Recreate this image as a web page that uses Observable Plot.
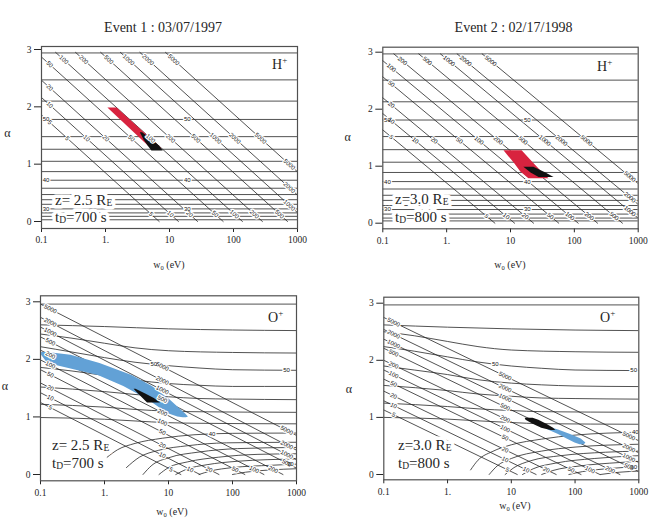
<!DOCTYPE html>
<html>
<head>
<meta charset="utf-8">
<script src="https://cdn.jsdelivr.net/npm/d3@7"></script>
<script src="https://cdn.jsdelivr.net/npm/@observablehq/plot@0.6"></script>
<style>
  body { margin: 0; background: #fff; }
  #fig { position: relative; width: 651px; height: 524px; background: #fff; }
  .panel { position: absolute; height: 262px; }
</style>
</head>
<body>
<div id="fig"></div>
<script>
// ---------- axes ----------
const xTicks = [0.1, 1, 10, 100, 1000];
const xTickLabels = ["0.1", "1.", "10", "100", "1000"];
const yTicks = [0, 1, 2, 3];
const yTickLabels = ["0", "1", "2", "3"];

// ---------- contour levels ----------
const energyLevels = [5, 10, 20, 50, 100, 200, 500, 1000, 2000, 5000];
const pitchLevels = [56, 54, 52, 50, 48, 46, 44, 42, 40, 38, 36, 34, 32, 30, 28, 26, 24];

// H+ energy contours: w0 where each meets the top line, and w0 where it meets α = 0
const ev1HTopW = [0.0083, 0.0166, 0.033, 0.083, 0.166, 0.34, 0.84, 1.71, 3.44, 8.66];
const ev1HBotW = [6.9, 13.8, 27.5, 69, 138, 283, 699, 1423, 2862, 7205];
const ev2HTopW = [0.0037, 0.0075, 0.0149, 0.037, 0.0745, 0.149, 0.366, 0.80, 1.46, 3.6];
const ev2HBotW = [5.7, 11.6, 23, 57, 115, 231, 567, 1240, 2260, 5570];

// O+ energy contours: α at w0 = 0.1, and w0 where each reaches α = 0
const ev1OLeftA = [1.25, 1.42, 1.59, 1.82, 1.99, 2.16, 2.39, 2.56, 2.73, 2.96];
const ev1OBotW = [15.6, 31, 61.5, 156, 310, 615, 1560, 2830, 5400, 15500];
const ev2OLeftA = [1.13, 1.29, 1.46, 1.67, 1.83, 2.0, 2.21, 2.37, 2.54, 2.75];
const ev2OBotW = [12.4, 24.5, 50.6, 124, 245, 506, 1240, 2450, 5060, 12400];

// H+ pitch-angle contours (flat in α)
const ev1HPitchA = [2.94, 2.47, 2.10, 1.78, 1.48, 1.26, 1.05, 0.87, 0.72, 0.58, 0.47, 0.38, 0.30, 0.22, 0.15, 0.09, 0.03];
const ev2HPitchA = [2.97, 2.51, 2.13, 1.81, 1.52, 1.29, 1.07, 0.89, 0.73, 0.60, 0.49, 0.40, 0.31, 0.24, 0.16, 0.09, 0.04];

// O+ pitch-angle contours, levels 56 … 28, as [w0, α] points
const ev1OPitch = [
  [[0.1, 2.96], [1000, 2.96]],
  [[0.1, 2.60], [1, 2.57], [10, 2.53], [100, 2.51], [1000, 2.50]],
  [[0.1, 2.44], [0.3, 2.37], [1, 2.28], [3, 2.20], [10, 2.15], [100, 2.12], [1000, 2.11]],
  [[0.1, 2.22], [0.3, 2.13], [1, 2.03], [3, 1.95], [10, 1.89], [30, 1.85], [100, 1.82], [1000, 1.81]],
  [[0.1, 1.86], [0.3, 1.80], [1, 1.72], [3, 1.64], [10, 1.58], [30, 1.55], [100, 1.53], [1000, 1.53]],
  [[0.1, 1.52], [1, 1.44], [3, 1.39], [10, 1.35], [30, 1.32], [100, 1.31], [1000, 1.30]],
  [[0.1, 1.22], [1, 1.17], [3, 1.13], [10, 1.10], [30, 1.09], [1000, 1.08]],
  [[0.1, 0.99], [1, 0.96], [3, 0.93], [10, 0.90], [30, 0.89], [1000, 0.88]],
  [[1.1, 0.30], [1.6, 0.43], [3, 0.54], [8, 0.63], [25, 0.69], [100, 0.715], [1000, 0.72]],
  [[2.2, 0.12], [3.5, 0.30], [7, 0.42], [20, 0.50], [80, 0.55], [1000, 0.56]],
  [[4.0, 0.0], [5.5, 0.16], [10, 0.29], [30, 0.39], [120, 0.45], [1000, 0.47]],
  [[7.1, 0.0], [10, 0.12], [20, 0.22], [60, 0.30], [250, 0.35], [1000, 0.36]],
  [[13, 0.0], [19, 0.09], [40, 0.17], [120, 0.23], [1000, 0.27]],
  [[30, 0.0], [45, 0.06], [100, 0.12], [400, 0.16], [1000, 0.18]],
  [[100, 0.0], [160, 0.04], [400, 0.08], [1000, 0.10]]
];
const ev2OPitch = [
  [[0.1, 2.97], [1000, 2.97]],
  [[0.1, 2.62], [1, 2.58], [10, 2.55], [100, 2.53], [1000, 2.52]],
  [[0.1, 2.50], [0.3, 2.43], [1, 2.33], [3, 2.24], [10, 2.18], [100, 2.15], [1000, 2.14]],
  [[0.1, 2.24], [0.3, 2.16], [1, 2.06], [3, 1.97], [10, 1.90], [30, 1.86], [100, 1.83], [1000, 1.82]],
  [[0.1, 1.90], [0.3, 1.83], [1, 1.75], [3, 1.66], [10, 1.60], [30, 1.57], [100, 1.55], [1000, 1.54]],
  [[0.1, 1.56], [1, 1.47], [3, 1.41], [10, 1.37], [30, 1.34], [100, 1.33], [1000, 1.32]],
  [[0.1, 1.25], [1, 1.19], [3, 1.15], [10, 1.12], [30, 1.10], [1000, 1.09]],
  [[0.1, 1.00], [1, 0.97], [3, 0.94], [10, 0.91], [30, 0.89], [1000, 0.88]],
  [[2.3, 0.08], [3, 0.25], [5, 0.40], [10, 0.52], [30, 0.62], [100, 0.69], [1000, 0.74]],
  [[4.5, 0.0], [6, 0.15], [10, 0.28], [30, 0.41], [100, 0.48], [1000, 0.53]],
  [[8, 0.0], [11, 0.12], [20, 0.24], [60, 0.33], [300, 0.39], [1000, 0.41]],
  [[15, 0.0], [22, 0.10], [50, 0.20], [200, 0.28], [1000, 0.33]],
  [[30, 0.0], [45, 0.07], [120, 0.15], [500, 0.21], [1000, 0.23]],
  [[80, 0.0], [130, 0.05], [400, 0.11], [1000, 0.14]],
  [[250, 0.0], [500, 0.04], [1000, 0.06]]
];

// observed distributions: rows of [α, w0 low, w0 high]
const ev1HModel = [[1.98, 1.09, 1.52], [1.27, 5.2, 7.6]];
const ev1HData = [[1.55, 3.5, 3.8], [1.42, 4.0, 5.4], [1.32, 4.6, 6.9], [1.23, 5.3, 8.0]];
const ev2HModel = [[1.27, 7.9, 15.2], [1.05, 11.5, 23], [0.90, 14.5, 31], [0.78, 19.4, 40]];
const ev2HData = [[0.98, 16.2, 23.2], [0.88, 21, 36], [0.80, 28, 48]];
const ev1OModel = [[2.12, 0.104, 0.13], [2.07, 0.104, 0.30], [1.93, 0.13, 0.85], [1.72, 0.80, 2.7],
                   [1.53, 2.0, 5.6], [1.30, 4.8, 10.5], [1.14, 7.6, 15.0], [1.05, 10.2, 18.5],
                   [1.0, 14, 20.5], [0.985, 17, 19]];
const ev1OData = [[1.48, 2.9, 3.1], [1.40, 3.4, 4.4], [1.32, 4.0, 6.0], [1.24, 4.7, 7.5]];
const ev2OModel = [[0.83, 34, 38], [0.78, 38, 55], [0.70, 55, 85], [0.62, 75, 125], [0.55, 100, 148], [0.52, 120, 140]];
const ev2OData = [[0.985, 16.5, 22], [0.95, 17, 27], [0.88, 22, 36], [0.81, 30, 46], [0.77, 42, 50]];

// ---------- drawing ----------
const SERIF = "'Liberation Serif', 'Times New Roman', serif";
const INK = "#262626";
const RED = "#d8233f";
const BLUE = "#62a1d6";
const DARK = "#111111";

function hEnergy(topA, topW, botW) {
  return energyLevels.map((v, i) => ({v, w1: topW[i], a1: topA, w2: botW[i], a2: 0}));
}
function oEnergy(leftA, botW) {
  return energyLevels.map((v, i) => ({v, w1: 0.1, a1: leftA[i], w2: botW[i], a2: 0}));
}
function flatPitch(alphas) {
  return alphas.map(a => [[0.1, a], [1000, a]]);
}
function lerpCurve(curve, w) {
  const lw = Math.log10(w);
  for (let i = 1; i < curve.length; i++) {
    const [w0, a0] = curve[i - 1], [w1, a1] = curve[i];
    const l0 = Math.log10(w0), l1 = Math.log10(w1);
    if (lw <= l1 || i === curve.length - 1) {
      const t = Math.max(0, Math.min(1, (lw - l0) / (l1 - l0)));
      return a0 + t * (a1 - a0);
    }
  }
}

const panels = [
  {
    left: 0, top: 0, width: 325, frame: [41, 297, 46, 228], xr: [41, 297], yr: [221, 49],
    energy: hEnergy(2.95, ev1HTopW, ev1HBotW), pitch: flatPitch(ev1HPitchA), midAlpha: 1.45,
    pitchLabels: [[50, 0.118], [50, 19], [40, 0.118], [40, 19], [30, 0.118], [30, 19]],
    areas: [{rows: ev1HModel, fill: RED}, {rows: ev1HData, fill: DARK}],
    title: ["Event 1 : 03/07/1997", 163, 32], ion: ["H", 272, 69], alpha: [7.5, 137], wl: [169, 268],
    z: ["z= 2.5 R", 55, 205], t: ["=700 s", 55, 222]
  },
  {
    left: 325, top: 0, width: 326, frame: [57.3, 312.7, 46.7, 228.3], xr: [57.3, 312.7], yr: [222.7, 51.7],
    energy: hEnergy(2.97, ev2HTopW, ev2HBotW), pitch: flatPitch(ev2HPitchA), midAlpha: 1.45,
    pitchLabels: [[50, 0.118], [50, 18.3], [40, 0.118], [40, 18.3], [30, 0.118], [30, 18.3]],
    areas: [{rows: ev2HModel, fill: RED}, {rows: ev2HData, fill: DARK}],
    title: ["Event 2 : 02/17/1998", 188.5, 32], ion: ["H", 272, 71], alpha: [22.7, 141], wl: [185, 268],
    z: ["z=3.0 R", 70, 204], t: ["=800 s", 70, 222]
  },
  {
    left: 0, top: 262, width: 325, frame: [40, 296, 33.3, 218.3], xr: [40, 296], yr: [212, 39.3],
    energy: oEnergy(ev1OLeftA, ev1OBotW), pitch: ev1OPitch, midW: 8,
    pitchLabels: [[50, 5.9], [50, 700], [40, 48], [30, 800]],
    areas: [{rows: ev1OModel, fill: BLUE}, {rows: ev1OData, fill: DARK}],
    title: null, ion: ["O", 268, 60], alpha: [5, 128], wl: [172, 253],
    z: ["z= 2.5 R", 52, 188], t: ["=700 s", 52, 206]
  },
  {
    left: 325, top: 262, width: 326, frame: [58.3, 313.3, 34.7, 217.3], xr: [58.3, 313.3], yr: [212, 40.7],
    energy: oEnergy(ev2OLeftA, ev2OBotW), pitch: ev2OPitch, midW: 8,
    pitchLabels: [[50, 5.6], [50, 830], [40, 880], [30, 830]],
    areas: [{rows: ev2OModel, fill: BLUE}, {rows: ev2OData, fill: DARK}],
    title: null, ion: ["O", 275, 60], alpha: [24, 131], wl: [190, 247],
    z: ["z=3.0 R", 73, 188], t: ["=800 s", 73, 206]
  }
];

// multi-size text; with a halo, a white copy is laid down first so lines break around it
function richText(svg, x, y, parts, anchor, halo) {
  const layers = halo ? ["halo", "ink"] : ["ink"];
  layers.forEach(layer => {
    const t = d3.select(svg).append("text")
      .attr("x", x).attr("y", y).attr("text-anchor", anchor)
      .attr("font-family", SERIF).attr("fill", layer === "halo" ? "white" : INK);
    if (layer === "halo") {
      t.attr("stroke", "white").attr("stroke-width", 7).attr("stroke-linejoin", "round");
    }
    parts.forEach(([s, size, dy]) => t.append("tspan").attr("font-size", size).attr("dy", dy).text(s));
  });
}

function buildPanel(cfg) {
  const [fl, fr, ft, fb] = cfg.frame;
  const pxD = (cfg.xr[1] - cfg.xr[0]) / 4;
  const pxA = (cfg.yr[0] - cfg.yr[1]) / 3;

  // energy contours and their labels along each visible segment
  const ePts = [], labels = [];
  cfg.energy.forEach((L, i) => {
    ePts.push({id: i, w: L.w1, a: L.a1}, {id: i, w: L.w2, a: L.a2});
    const lx1 = Math.log10(L.w1), dx = Math.log10(L.w2) - lx1, da = L.a2 - L.a1;
    let t0 = 0, t1 = 1;
    for (const [lo, hi, p, d] of [[-1, 3, lx1, dx], [0, 3, L.a1, da]]) {
      let ta = (lo - p) / d, tb = (hi - p) / d;
      if (ta > tb) [ta, tb] = [tb, ta];
      t0 = Math.max(t0, ta); t1 = Math.min(t1, tb);
    }
    const len = Math.hypot(dx * pxD, da * pxA);
    const rot = Math.atan2(-da * pxA, dx * pxD) * 180 / Math.PI;
    const ts = [t0 + 11 / len, t1 - 11 / len];
    const tm = cfg.midAlpha != null ? (cfg.midAlpha - L.a1) / da : (Math.log10(cfg.midW) - lx1) / dx;
    if (tm > t0 + 30 / len && tm < t1 - 30 / len) ts.push(tm);
    ts.forEach(t => labels.push({w: 10 ** (lx1 + t * dx), a: L.a1 + t * da, s: String(L.v), r: rot}));
  });

  // pitch-angle contours
  const pPts = [];
  cfg.pitch.forEach((curve, i) => curve.forEach(([w, a]) => pPts.push({id: i, w, a})));
  cfg.pitchLabels.forEach(([lev, w]) => {
    const curve = cfg.pitch[pitchLevels.indexOf(lev)];
    labels.push({w, a: lerpCurve(curve, w), s: String(lev), r: 0});
  });

  const svg = Plot.plot({
    width: cfg.width, height: 262,
    marginLeft: fl, marginRight: cfg.width - fr, marginTop: ft, marginBottom: 262 - fb,
    x: {type: "log", domain: [0.1, 1000], range: cfg.xr, ticks: xTicks,
        tickFormat: d => xTickLabels[xTicks.indexOf(d)], tickSize: 4, tickPadding: 4, label: null},
    y: {domain: [0, 3], range: cfg.yr, ticks: yTicks,
        tickFormat: d => yTickLabels[yTicks.indexOf(d)], tickSize: 7, tickPadding: 3, label: null},
    style: {fontFamily: SERIF, fontSize: "9.5px", background: "transparent", color: INK, overflow: "visible"},
    marks: [
      Plot.line(pPts, {x: "w", y: "a", z: "id", stroke: INK, strokeWidth: 0.8, curve: "monotone-x", clip: true}),
      Plot.line(ePts, {x: "w", y: "a", z: "id", stroke: INK, strokeWidth: 0.8, clip: true}),
      ...cfg.areas.map(({rows, fill}) =>
        Plot.areaX(rows.map(([a, lo, hi]) => ({a, lo, hi})), {y: "a", x1: "lo", x2: "hi", fill, clip: true})),
      Plot.text(labels, {x: "w", y: "a", text: "s", rotate: "r", fontSize: 6, fontFamily: "Liberation Sans",
                         fill: "white", stroke: "white", strokeWidth: 2.5, clip: true}),
      Plot.text(labels, {x: "w", y: "a", text: "s", rotate: "r", fontSize: 6, fontFamily: "Liberation Sans",
                         fill: "#111", clip: true}),
      Plot.frame({stroke: "#505050", strokeWidth: 1.2})
    ]
  });
  svg.style.overflow = "visible";

  // annotations
  if (cfg.title) richText(svg, cfg.title[1], cfg.title[2], [[cfg.title[0], 14, 0]], "middle", false);
  richText(svg, cfg.ion[1], cfg.ion[2], [[cfg.ion[0], 14, 0], ["+", 9, -6]], "start", false);
  richText(svg, cfg.alpha[0], cfg.alpha[1], [["α", 12, 0]], "middle", false);
  richText(svg, cfg.wl[0], cfg.wl[1], [["w", 10, 0], ["0", 6.5, 1.5], [" (eV)", 10, -1.5]], "middle", false);
  richText(svg, cfg.z[1], cfg.z[2], [[cfg.z[0], 15, 0], ["E", 9.5, 0.5]], "start", true);
  richText(svg, cfg.t[1], cfg.t[2], [["t", 15, 0], ["D", 9.5, 0.5], [cfg.t[0], 15, -0.5]], "start", true);
  return svg;
}

const fig = document.getElementById("fig");
panels.forEach(cfg => {
  const div = document.createElement("div");
  div.className = "panel";
  div.style.left = cfg.left + "px";
  div.style.top = cfg.top + "px";
  div.style.width = cfg.width + "px";
  div.appendChild(buildPanel(cfg));
  fig.appendChild(div);
});
</script>
</body>
</html>
